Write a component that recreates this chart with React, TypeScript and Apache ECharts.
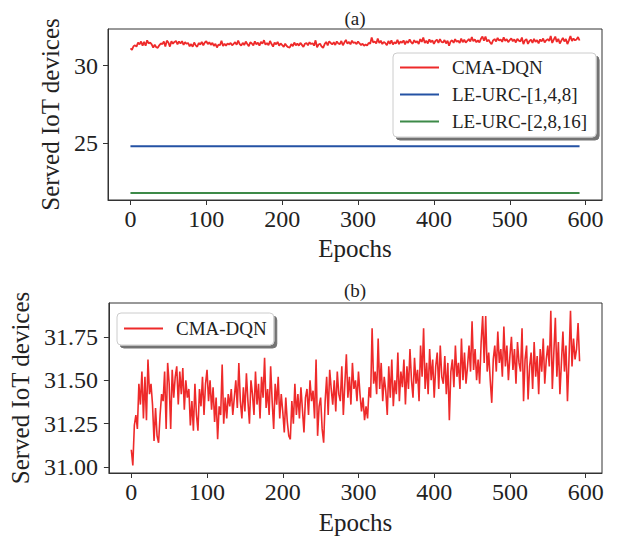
import React, { useEffect, useRef } from "react";
import * as echarts from "echarts";

const FONT = '"Liberation Serif", "Times New Roman", serif';

// CMA-DQN served devices, one value every 2 epochs (0, 2, ..., 592)
const cmaDqn: number[] = [
  31.10, 31.01, 31.24, 31.30, 31.22, 31.48, 31.36, 31.55, 31.28, 31.52, 31.27, 31.62, 31.42, 31.48, 31.36,
  31.15, 31.34, 31.18, 31.14, 31.30, 31.42, 31.38, 31.55, 31.22, 31.60, 31.48, 31.22, 31.56, 31.40, 31.52,
  31.58, 31.36, 31.55, 31.42, 31.57, 31.33, 31.50, 31.40, 31.45, 31.24, 31.38, 31.21, 31.48, 31.30, 31.21,
  31.45, 31.35, 31.52, 31.30, 31.48, 31.56, 31.38, 31.50, 31.33, 31.46, 31.26, 31.40, 31.16, 31.35, 31.30,
  31.59, 31.25, 31.40, 31.28, 31.42, 31.35, 31.45, 31.30, 31.40, 31.50, 31.34, 31.60, 31.38, 31.28, 31.46,
  31.32, 31.54, 31.38, 31.25, 31.50, 31.42, 31.30, 31.55, 31.36, 31.48, 31.28, 31.52, 31.40, 31.63, 31.34,
  31.45, 31.30, 31.58, 31.38, 31.22, 31.48, 31.36, 31.52, 31.28, 31.42, 31.32, 31.20, 31.40, 31.26, 31.18,
  31.16, 31.38, 31.25, 31.48, 31.30, 31.42, 31.28, 31.46, 31.33, 31.20, 31.40, 31.45, 31.30, 31.50, 31.38,
  31.44, 31.28, 31.62, 31.18, 31.35, 31.40, 31.22, 31.14, 31.38, 31.52, 31.30, 31.56, 31.45, 31.36, 31.50,
  31.32, 31.55, 31.42, 31.38, 31.58, 31.30, 31.48, 31.65, 31.40, 31.52, 31.36, 31.60, 31.45, 31.50, 31.38,
  31.55, 31.42, 31.32, 31.40, 31.27, 31.35, 31.28, 31.46, 31.40, 31.80, 31.48, 31.55, 31.42, 31.74, 31.45,
  31.60, 31.38, 31.52, 31.44, 31.30, 31.58, 31.40, 31.62, 31.35, 31.50, 31.42, 31.66, 31.38, 31.55, 31.46,
  31.62, 31.36, 31.58, 31.45, 31.68, 31.50, 31.40, 31.63, 31.48, 31.56, 31.38, 31.70, 31.52, 31.80, 31.45,
  31.60, 31.42, 31.68, 31.50, 31.62, 31.40, 31.58, 31.66, 31.45, 31.70, 31.52, 31.48, 31.64, 31.42, 31.60,
  31.27, 31.55, 31.62, 31.46, 31.70, 31.52, 31.60, 31.45, 31.74, 31.50, 31.66, 31.48, 31.58, 31.70, 31.55,
  31.84, 31.56, 31.68, 31.50, 31.62, 31.48, 31.72, 31.87, 31.60, 31.87, 31.55, 31.66, 31.50, 31.37, 31.62,
  31.70, 31.55, 31.78, 31.60, 31.68, 31.52, 31.81, 31.58, 31.70, 31.50, 31.64, 31.75, 31.56, 31.68, 31.48,
  31.72, 31.60, 31.55, 31.80, 31.38, 31.62, 31.70, 31.39, 31.58, 31.66, 31.45, 31.72, 31.52, 31.64, 31.42,
  31.68, 31.55, 31.74, 31.48, 31.62, 31.70, 31.58, 31.90, 31.45, 31.66, 31.86, 31.52, 31.72, 31.42, 31.60,
  31.78, 31.55, 31.70, 31.38, 31.62, 31.90, 31.58, 31.74, 31.62, 31.68, 31.83, 31.61,
];
const epochStep = 2;

// Baselines (constant over epochs)
const baselineEpochs: number[] = [0, 592];
const leUrc148: number[] = [24.8, 24.8];
const leUrc2816: number[] = [21.8, 21.8];

const xTicks: number[] = [0, 100, 200, 300, 400, 500, 600];
const yTicksA: number[] = [25, 30];
const yTicksB: number[] = [31.0, 31.25, 31.5, 31.75];

const seriesNames = ["CMA-DQN", "LE-URC-[1,4,8]", "LE-URC-[2,8,16]"];

export default function App() {
  const ref = useRef<HTMLDivElement>(null);

  useEffect(() => {
    const chart = echarts.init(ref.current!, null, { renderer: "svg" });
    const cmaPairs = cmaDqn.map((v, i) => [i * epochStep, v]);
    const pairs = (ys: number[]) => ys.map((v, i) => [baselineEpochs[i], v]);

    const axisColor = "#333";
    const txt = "#222";

    const xAxisBase = (gridIndex: number) => ({
      type: "value",
      gridIndex,
      min: -29.6,
      max: 621.6,
      name: "Epochs",
      nameLocation: "middle",
      nameGap: 36,
      nameTextStyle: { fontFamily: FONT, fontSize: 25, color: txt },
      axisLine: { show: true, onZero: false, lineStyle: { color: axisColor, width: 1 } },
      axisTick: { show: true, inside: false, length: 5, customValues: xTicks, lineStyle: { color: axisColor } },
      axisLabel: { fontFamily: FONT, fontSize: 24, color: txt, margin: 7, customValues: xTicks },
      splitLine: { show: false },
    });

    const yName = { fontFamily: FONT, fontSize: 25, color: txt };

    const option = {
      animation: false,
      backgroundColor: "#fff",
      grid: [
        { left: 108, top: 29, width: 494, height: 171, show: true, borderColor: axisColor, borderWidth: 1, backgroundColor: "#fff" },
        { left: 108, top: 303, width: 494, height: 170, show: true, borderColor: axisColor, borderWidth: 1, backgroundColor: "#fff" },
      ],
      graphic: [
        { type: "text", x: 355, y: 18, style: { text: "(a)", fontFamily: FONT, fontSize: 19, fill: txt, textAlign: "center", textVerticalAlign: "middle" } },
        { type: "text", x: 355, y: 290, style: { text: "(b)", fontFamily: FONT, fontSize: 19, fill: txt, textAlign: "center", textVerticalAlign: "middle" } },
      ],
      xAxis: [xAxisBase(0), { ...xAxisBase(1), nameGap: 37 }],
      yAxis: [
        {
          type: "value",
          gridIndex: 0,
          min: 21.35,
          max: 32.35,
          name: "Served IoT devices",
          nameLocation: "middle",
          nameGap: 43,
          nameTextStyle: yName,
          axisLine: { show: true, onZero: false, lineStyle: { color: axisColor, width: 1 } },
          axisTick: { show: true, inside: false, length: 5, customValues: yTicksA, lineStyle: { color: axisColor } },
          axisLabel: { fontFamily: FONT, fontSize: 24, color: txt, margin: 10, customValues: yTicksA },
          splitLine: { show: false },
        },
        {
          type: "value",
          gridIndex: 1,
          min: 30.966,
          max: 31.945,
          name: "Served IoT devices",
          nameLocation: "middle",
          nameGap: 72,
          nameTextStyle: yName,
          axisLine: { show: true, onZero: false, lineStyle: { color: axisColor, width: 1 } },
          axisTick: { show: true, inside: false, length: 5, customValues: yTicksB, lineStyle: { color: axisColor } },
          axisLabel: {
            fontFamily: FONT,
            fontSize: 24,
            color: txt,
            margin: 11,
            customValues: yTicksB,
            formatter: (v: number) => v.toFixed(2),
          },
          splitLine: { show: false },
        },
      ],
      legend: [
        {
          data: seriesNames,
          orient: "vertical",
          left: 393,
          top: 53,
          padding: [5, 9, 6, 7],
          itemGap: 8,
          itemWidth: 39,
          itemHeight: 2,
          icon: "rect",
          backgroundColor: "#fff",
          borderColor: "#ccc",
          borderWidth: 1,
          borderRadius: 4,
          shadowColor: "rgba(0,0,0,0.55)",
          shadowBlur: 1,
          shadowOffsetX: 3,
          shadowOffsetY: 3,
          selectedMode: false,
          textStyle: { fontFamily: FONT, fontSize: 19, color: txt, padding: [0, 0, 0, 8] },
        },
        {
          data: [seriesNames[0]],
          orient: "vertical",
          left: 117,
          top: 313,
          padding: [6, 7, 7, 7],
          itemWidth: 39,
          itemHeight: 2,
          icon: "rect",
          backgroundColor: "#fff",
          borderColor: "#ccc",
          borderWidth: 1,
          borderRadius: 4,
          shadowColor: "rgba(0,0,0,0.55)",
          shadowBlur: 1,
          shadowOffsetX: 3,
          shadowOffsetY: 3,
          selectedMode: false,
          textStyle: { fontFamily: FONT, fontSize: 19, color: txt, padding: [0, 0, 0, 8] },
        },
      ],
      series: [
        {
          name: seriesNames[0],
          type: "line",
          xAxisIndex: 0,
          yAxisIndex: 0,
          data: cmaPairs,
          showSymbol: false,
          color: "#ee2a2a",
          lineStyle: { width: 1.8, color: "#ee2a2a" },
        },
        {
          name: seriesNames[1],
          type: "line",
          xAxisIndex: 0,
          yAxisIndex: 0,
          data: pairs(leUrc148),
          showSymbol: false,
          color: "#2452a4",
          lineStyle: { width: 2, color: "#2452a4" },
        },
        {
          name: seriesNames[2],
          type: "line",
          xAxisIndex: 0,
          yAxisIndex: 0,
          data: pairs(leUrc2816),
          showSymbol: false,
          color: "#3d8a48",
          lineStyle: { width: 2, color: "#3d8a48" },
        },
        {
          name: seriesNames[0],
          type: "line",
          xAxisIndex: 1,
          yAxisIndex: 1,
          data: cmaPairs,
          showSymbol: false,
          color: "#ee2a2a",
          lineStyle: { width: 1.6, color: "#ee2a2a" },
        },
      ],
    };

    chart.setOption(option as any);
    return () => chart.dispose();
  }, []);

  return (
    <div
      ref={ref}
      style={{ position: "fixed", left: 0, top: 0, width: 621, height: 536, background: "#fff" }}
    />
  );
}
